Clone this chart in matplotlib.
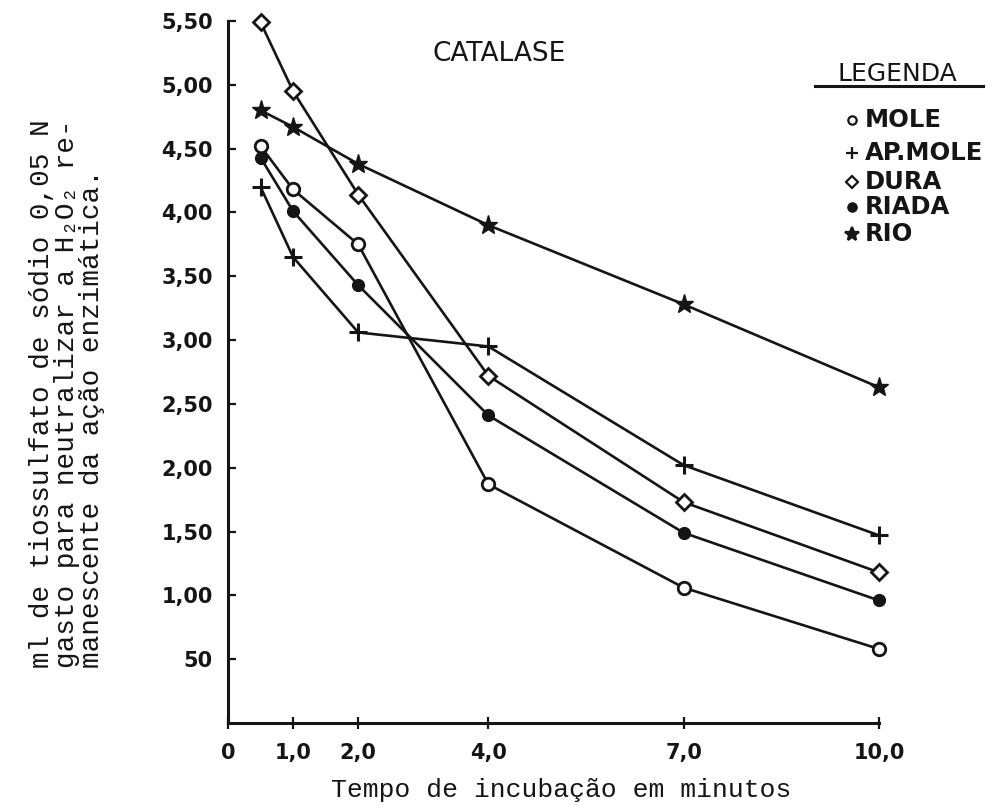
import matplotlib
matplotlib.use("Agg")
import matplotlib.pyplot as plt
from matplotlib.lines import Line2D

# ---------------- data ----------------
times = [0.5, 1.0, 2.0, 4.0, 7.0, 10.0]
mole = [4.52, 4.18, 3.75, 1.87, 1.06, 0.58]
ap_mole = [4.20, 3.65, 3.06, 2.95, 2.02, 1.47]
dura = [5.49, 4.95, 4.14, 2.72, 1.73, 1.18]
riada = [4.43, 4.01, 3.43, 2.41, 1.49, 0.96]
rio = [4.80, 4.67, 4.38, 3.90, 3.28, 2.63]

series_names = ["MOLE", "AP.MOLE", "DURA", "RIADA", "RIO"]

x_ticks = [0, 1.0, 2.0, 4.0, 7.0, 10.0]
x_labels = ["0", "1,0", "2,0", "4,0", "7,0", "10,0"]
y_ticks = [0.5, 1.0, 1.5, 2.0, 2.5, 3.0, 3.5, 4.0, 4.5, 5.0, 5.5]
y_labels = ["50", "1,00", "1,50", "2,00", "2,50", "3,00", "3,50",
            "4,00", "4,50", "5,00", "5,50"]

title = "CATALASE"
x_title = "Tempo de incubação em minutos"
y_title_lines = ["ml de tiossulfato de sódio 0,05 N",
                 "gasto para neutralizar a H₂O₂ re-",
                 "manescente da ação enzimática."]

# ---------------- style ----------------
ink = "#151515"
W, H = 995, 806
fig = plt.figure(figsize=(W / 100, H / 100), dpi=100)
fig.patch.set_facecolor("white")

ax = fig.add_axes([228 / W, 1 - 723 / H, (879 - 228) / W, (723 - 21) / H])
ax.set_facecolor("white")

styles = {
    "MOLE": dict(marker="o", ms=9, mfc="white", mew=2.0),
    "AP.MOLE": dict(marker="+", ms=13, mfc=ink, mew=2.2),
    "DURA": dict(marker="D", ms=8.5, mfc="white", mew=2.0),
    "RIADA": dict(marker="o", ms=8, mfc=ink, mew=1.5),
    "RIO": dict(marker="*", ms=14, mfc=ink, mew=1.0),
}
data = {"MOLE": mole, "AP.MOLE": ap_mole, "DURA": dura,
        "RIADA": riada, "RIO": rio}

for name in series_names:
    st = styles[name]
    ax.plot(times, data[name], color=ink, lw=1.9, marker=st["marker"],
            ms=st["ms"], mfc=st["mfc"], mec=ink, mew=st["mew"],
            clip_on=False, zorder=3)

ax.set_xlim(0, 10)
ax.set_ylim(0, 5.5)
for s in ["top", "right"]:
    ax.spines[s].set_visible(False)
for s in ["left", "bottom"]:
    ax.spines[s].set_linewidth(2.2)
    ax.spines[s].set_color(ink)

ax.set_xticks(x_ticks)
ax.set_xticklabels(x_labels, fontsize=15, fontweight="bold",
                   family="DejaVu Sans", color=ink)
ax.set_yticks(y_ticks)
ax.set_yticklabels(y_labels, fontsize=15, fontweight="bold",
                   family="DejaVu Sans", color=ink)
ax.tick_params(axis="x", direction="inout", length=9, width=1.6,
               pad=10, colors=ink)
ax.tick_params(axis="y", direction="in", length=6, width=1.6,
               pad=11, colors=ink)

# title
fig.text(499 / W, 1 - 54 / H, title, ha="center", va="center",
         fontsize=19, family="DejaVu Sans", color=ink)

# x title (typewriter)
fig.text(561 / W, 1 - 790 / H, x_title, ha="center", va="center",
         fontsize=19, family=["Liberation Mono", "DejaVu Sans Mono"],
         color=ink)

# y title lines (typewriter, rotated, bottom-aligned)
for i, line in enumerate(y_title_lines):
    fig.text((42 + 25 * i) / W, 1 - 668 / H, line, rotation=90,
             rotation_mode="anchor", ha="left", va="center",
             fontsize=20, family=["Liberation Mono", "DejaVu Sans Mono"],
             color=ink)

# legend (hand-drawn style)
fig.text(897 / W, 1 - 74 / H, "LEGENDA", ha="center", va="center",
         fontsize=18, family="DejaVu Sans", color=ink)
fig.add_artist(Line2D([815 / W, 983 / W], [1 - 86 / H, 1 - 86 / H],
                      color=ink, lw=2.2))
leg_rows = [120, 153, 182, 207, 234]
leg_ms = {"MOLE": 6, "AP.MOLE": 9, "DURA": 6, "RIADA": 6, "RIO": 10}
for name, py in zip(series_names, leg_rows):
    st = styles[name]
    fig.add_artist(Line2D([852 / W], [1 - py / H], marker=st["marker"],
                          ms=leg_ms[name], mfc=st["mfc"], mec=ink,
                          mew=1.6, color=ink, lw=0))
    fig.text(865 / W, 1 - py / H, name, ha="left", va="center",
             fontsize=17.5, fontweight="bold", family="DejaVu Sans",
             color=ink)

fig.savefig("out.png", dpi=100, facecolor="white")
